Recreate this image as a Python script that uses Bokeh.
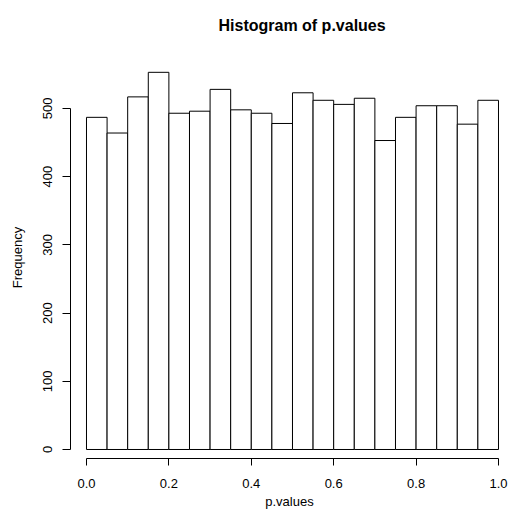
from bokeh.plotting import figure
from bokeh.models import Range1d, FixedTicker, PrintfTickFormatter
from bokeh.embed import file_html
from bokeh.resources import INLINE

# Histogram data
bin_left = [0.00, 0.05, 0.10, 0.15, 0.20, 0.25, 0.30, 0.35, 0.40, 0.45,
            0.50, 0.55, 0.60, 0.65, 0.70, 0.75, 0.80, 0.85, 0.90, 0.95]
bin_right = [0.05, 0.10, 0.15, 0.20, 0.25, 0.30, 0.35, 0.40, 0.45, 0.50,
             0.55, 0.60, 0.65, 0.70, 0.75, 0.80, 0.85, 0.90, 0.95, 1.00]
counts = [487, 464, 517, 553, 493, 496, 528, 498, 493, 478,
          523, 512, 506, 515, 453, 487, 504, 504, 477, 512]
x_ticks = [0.0, 0.2, 0.4, 0.6, 0.8, 1.0]
y_ticks = [0, 100, 200, 300, 400, 500]
title_text = "Histogram of p.values"

FONT = "Liberation Sans"

p = figure(width=508, height=511, output_backend="svg", toolbar_location=None,
           x_range=Range1d(-0.0388, 1.0243), y_range=Range1d(-13.2, 576.2),
           min_border_left=70, min_border_right=0, min_border_top=56,
           min_border_bottom=53)
p.outline_line_color = None
p.xgrid.visible = False
p.ygrid.visible = False
p.background_fill_color = "white"
p.border_fill_color = "white"

p.quad(left=bin_left, right=bin_right, bottom=0, top=counts,
       fill_color="white", line_color="black", line_width=1)

# title with a blank second line so that it sits higher in the top margin
p.title.text = title_text + "\n "
p.title.align = "left"
p.title.offset = 148
p.title.vertical_align = "top"
p.title.text_font = FONT
p.title.text_font_size = "16px"
p.title.text_font_style = "bold"
p.title.text_color = "black"
p.title.standoff = 8

for ax in (p.xaxis[0], p.yaxis[0]):
    ax.axis_line_color = "black"
    ax.major_tick_line_color = "black"
    ax.minor_tick_line_color = None
    ax.major_tick_in = 0
    ax.major_label_text_font = FONT
    ax.major_label_text_font_size = "13px"
    ax.major_label_text_color = "black"
    ax.axis_label_text_font = FONT
    ax.axis_label_text_font_size = "13px"
    ax.axis_label_text_font_style = "normal"
    ax.axis_label_text_color = "black"

xa = p.xaxis[0]
xa.bounds = (0, 1)
xa.ticker = FixedTicker(ticks=x_ticks)
xa.formatter = PrintfTickFormatter(format="%.1f")
xa.axis_label = "p.values"
xa.major_tick_out = 7
xa.major_label_standoff = 13
xa.axis_label_standoff = 3

ya = p.yaxis[0]
ya.bounds = (0, 500)
ya.ticker = FixedTicker(ticks=y_ticks)
ya.formatter = PrintfTickFormatter(format="%d")
ya.major_label_orientation = "vertical"
ya.axis_label = "Frequency"
ya.major_tick_out = 8
ya.major_label_standoff = 10
ya.axis_label_standoff = 16

open("out.html", "w").write(file_html(p, INLINE))
